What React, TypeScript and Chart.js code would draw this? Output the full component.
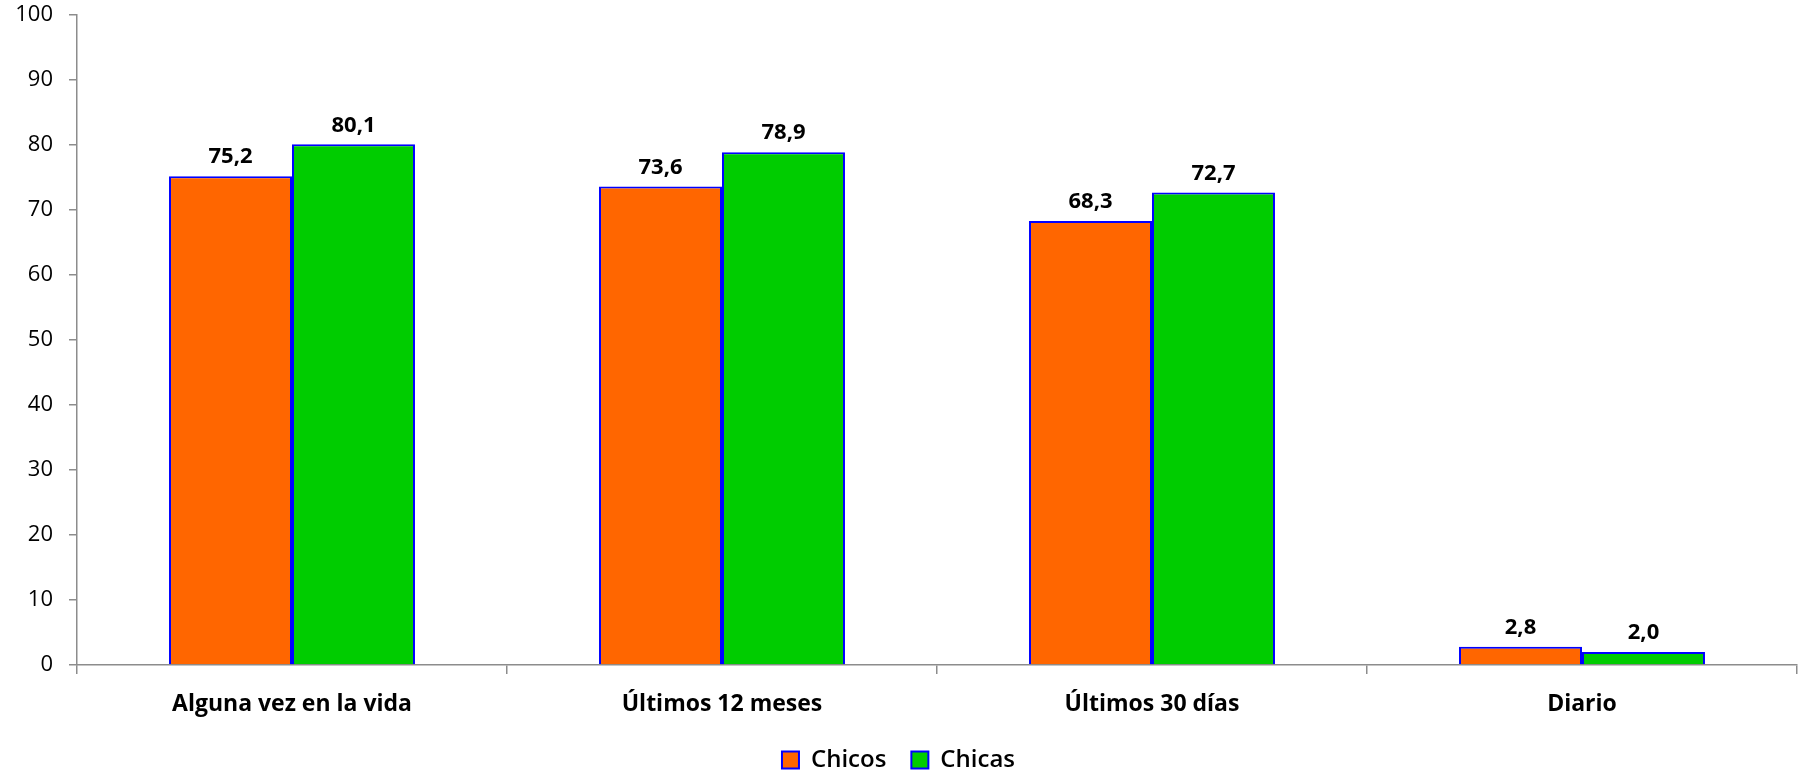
import React, { useEffect, useRef } from "react";
import { Chart, registerables } from "chart.js";

Chart.register(...registerables);

const categories = ["Alguna vez en la vida", "Últimos 12 meses", "Últimos 30 días", "Diario"];
const chicos = [75.2, 73.6, 68.3, 2.8];
const chicas = [80.1, 78.9, 72.7, 2.0];
const seriesNames = ["Chicos", "Chicas"];

const FONT = "'Open Sans', 'DejaVu Sans', sans-serif";

const valueLabels = {
  id: "valueLabels",
  afterDatasetsDraw(chart: any) {
    const ctx = chart.ctx;
    ctx.save();
    ctx.font = `bold 22px ${FONT}`;
    ctx.fillStyle = "#000";
    ctx.textAlign = "center";
    ctx.textBaseline = "bottom";
    chart.data.datasets.forEach((ds: any, i: number) => {
      const meta = chart.getDatasetMeta(i);
      meta.data.forEach((bar: any, j: number) => {
        const v = ds.data[j] as number;
        ctx.fillText(v.toFixed(1).replace(".", ","), bar.x, bar.y - 8);
      });
    });
    ctx.restore();
  },
};

export default function App() {
  const ref = useRef<HTMLCanvasElement>(null);
  useEffect(() => {
    if (!ref.current) return;
    const chart = new Chart(ref.current, {
      type: "bar",
      data: {
        labels: categories,
        datasets: [
          {
            label: seriesNames[0],
            data: chicos,
            backgroundColor: "#FF6600",
            borderColor: "#0000FF",
            borderWidth: 2,
          },
          {
            label: seriesNames[1],
            data: chicas,
            backgroundColor: "#00CC00",
            borderColor: "#0000FF",
            borderWidth: 2,
          },
        ],
      },
      options: {
        responsive: false,
        animation: false,
        layout: { padding: { top: 15, right: 4, left: 0, bottom: -11 } },
        datasets: { bar: { categoryPercentage: 0.572, barPercentage: 1 } },
        plugins: {
          legend: {
            position: "bottom",
            labels: {
              font: { family: FONT, size: 24, weight: "600" },
              color: "#000",
              boxWidth: 17,
              boxHeight: 17,
              padding: 25,
            },
          },
          tooltip: { enabled: false },
        },
        scales: {
          x: {
            grid: { display: true, drawOnChartArea: false, offset: true, tickLength: 9, color: "#8c8c8c", lineWidth: 1.5 },
            border: { color: "#8c8c8c", width: 1.5 },
            ticks: { font: { family: FONT, size: 23, weight: "bold" }, color: "#000", padding: 17, maxRotation: 0 },
            afterFit: (s: any) => { s.height = 58; },
          },
          y: {
            min: 0,
            max: 100,
            ticks: { stepSize: 10, font: { family: FONT, size: 22 }, color: "#000", padding: 16 },
            grid: { display: true, drawOnChartArea: false, tickLength: 8, color: "#8c8c8c", lineWidth: 1.5 },
            border: { color: "#8c8c8c", width: 1.5 },
            afterFit: (s: any) => { s.width = 77; s.paddingTop = 10; s.paddingBottom = 10; },
          },
        },
      },
      plugins: [valueLabels],
    });
    return () => chart.destroy();
  }, []);
  return (
    <div style={{ position: "absolute", left: 0, top: 0, width: 1801, height: 771, background: "#fff" }}>
      <canvas ref={ref} width={1801} height={771} style={{ display: "block" }} />
    </div>
  );
}
